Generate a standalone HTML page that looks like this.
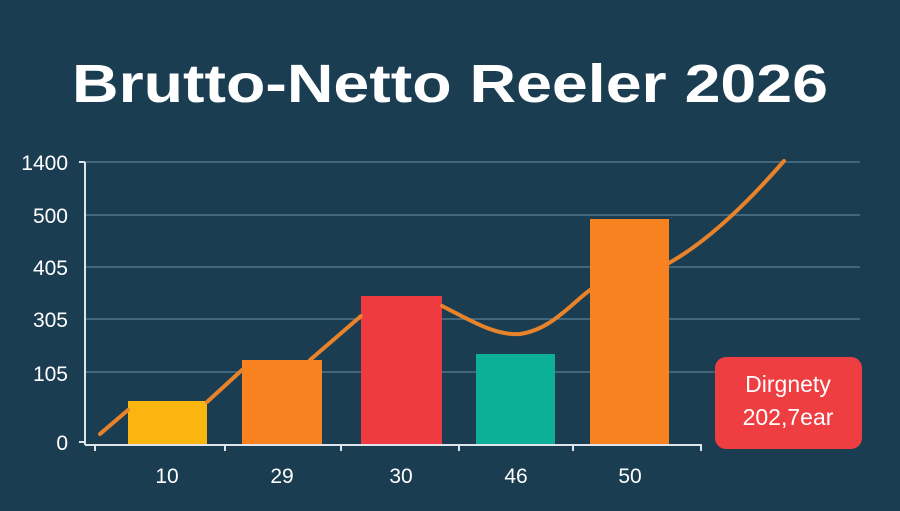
<!DOCTYPE html>
<html><head><meta charset="utf-8"><style>
html,body{margin:0;padding:0;background:#1b3d52;}
body{width:900px;height:506px;overflow:hidden;font-family:"Liberation Sans",sans-serif;}
</style></head><body>
<svg width="900" height="506" viewBox="0 0 900 506" xmlns="http://www.w3.org/2000/svg">
<rect width="900" height="506" fill="#1b3d52"/>
<text x="72" y="102" textLength="756" lengthAdjust="spacingAndGlyphs" font-family="Liberation Sans, sans-serif" font-weight="bold" font-size="54" fill="#ffffff">Brutto-Netto Reeler 2026</text>
<g stroke="#4f7487" stroke-width="1.5">
<line x1="85" y1="162" x2="860" y2="162"/>
<line x1="85" y1="215" x2="860" y2="215"/>
<line x1="85" y1="267" x2="860" y2="267"/>
<line x1="85" y1="319" x2="860" y2="319"/>
<line x1="85" y1="372" x2="860" y2="372"/>
</g>
<g stroke="#dfe6ea" stroke-width="2">
<line x1="85" y1="162" x2="85" y2="445"/>
<line x1="85" y1="445" x2="702" y2="445"/>
<line x1="79" y1="162" x2="85" y2="162"/>
<line x1="79" y1="442" x2="85" y2="442"/>
<line x1="95" y1="445" x2="95" y2="451"/>
<line x1="225" y1="445" x2="225" y2="451"/>
<line x1="341" y1="445" x2="341" y2="451"/>
<line x1="459" y1="445" x2="459" y2="451"/>
<line x1="573" y1="445" x2="573" y2="451"/>
<line x1="701" y1="445" x2="701" y2="451"/>
</g>
<g font-size="21" fill="#ffffff" text-anchor="end">
<text x="68" y="170">1400</text>
<text x="68" y="223">500</text>
<text x="68" y="275">405</text>
<text x="68" y="327">305</text>
<text x="68" y="381">105</text>
<text x="68" y="450">0</text>
</g>
<g font-size="21" fill="#ffffff" text-anchor="middle">
<text x="167" y="483">10</text>
<text x="282" y="483">29</text>
<text x="401" y="483">30</text>
<text x="516" y="483">46</text>
<text x="630" y="483">50</text>
</g>
<rect x="128" y="401" width="79" height="43" fill="#fbb50f"/>
<rect x="242" y="360" width="80" height="84" fill="#f7821f"/>
<rect x="361" y="296" width="81" height="148" fill="#ee3a40"/>
<rect x="476" y="354" width="79" height="90" fill="#0cb097"/>
<rect x="590" y="219" width="79" height="225" fill="#f7821f"/>
<path d="M100,434 L128,410 M207,402 L242,370 M310,360 L361,316 M442,306 C470,320 495,336 520,334 C550,330 570,305 590,290 M669,263 C710,240 750,200 784,161" fill="none" stroke="#e8832a" stroke-width="4" stroke-linecap="round"/>
<rect x="715" y="357" width="147" height="92" rx="11" fill="#ef3e42"/>
<text x="788" y="392" text-anchor="middle" font-size="23" fill="#ffffff">Dirgnety</text>
<text x="788" y="425" text-anchor="middle" font-size="23" fill="#ffffff">202,7ear</text>
</svg>
</body></html>
